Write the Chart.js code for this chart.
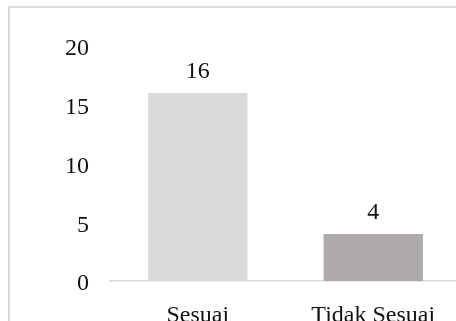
<!DOCTYPE html>
<html>
<head>
<meta charset="utf-8">
<script src="https://cdn.jsdelivr.net/npm/chart.js@4.4.1/dist/chart.umd.min.js"></script>
<style>
  html, body { margin: 0; padding: 0; background: #fff; overflow: hidden; }
  #wrap { position: relative; width: 456px; height: 321px; overflow: hidden; background: #fff; }
  #frame { position: absolute; left: 8px; top: 6px; width: 700px; height: 700px; border: 2px solid #d9d9d9; box-sizing: border-box; }
  canvas { position: absolute; left: 0; top: 0; }
</style>
</head>
<body>
<div id="wrap">
  <div id="frame"></div>
  <canvas id="c" width="462" height="321"></canvas>
</div>
<script>
const categories = ["Sesuai", "Tidak Sesuai"];
const values = [16, 4];
const barColors = ["#d9d9d9", "#aeaaaa"];
const yTicks = [0, 5, 10, 15, 20];

const FONT = "'Liberation Serif', 'Times New Roman', serif";

const valueLabels = {
  id: 'valueLabels',
  afterDatasetsDraw(chart) {
    const ctx = chart.ctx;
    const meta = chart.getDatasetMeta(0);
    ctx.save();
    ctx.font = "24px " + FONT;
    ctx.fillStyle = "#111";
    ctx.textAlign = "center";
    ctx.textBaseline = "alphabetic";
    meta.data.forEach((bar, i) => {
      ctx.fillText(String(values[i]), bar.x, bar.y - 15);
    });
    ctx.restore();
  }
};

new Chart(document.getElementById('c'), {
  type: 'bar',
  data: {
    labels: categories,
    datasets: [{
      data: values,
      backgroundColor: barColors,
      borderWidth: 0,
      categoryPercentage: 1.0,
      barPercentage: 0.566
    }]
  },
  options: {
    responsive: false,
    animation: false,
    devicePixelRatio: 1,
    layout: { padding: { left: 0, right: 1, top: 46, bottom: 0 } },
    plugins: { legend: { display: false }, tooltip: { enabled: false } },
    scales: {
      x: {
        grid: { display: false },
        border: { display: true, color: '#d9d9d9', width: 1.5 },
        ticks: { font: { family: FONT, size: 24 }, color: '#111', padding: 12, maxRotation: 0 },
        afterFit(scale) { scale.height = 40; }
      },
      y: {
        min: 0, max: 20,
        afterBuildTicks(scale) { scale.ticks = yTicks.map(v => ({ value: v })); },
        grid: { display: false },
        border: { display: false },
        ticks: { font: { family: FONT, size: 24 }, color: '#111', padding: 13, labelOffset: 3 },
        afterFit(scale) { scale.width = 110; }
      }
    }
  },
  plugins: [valueLabels]
});
</script>
</body>
</html>
